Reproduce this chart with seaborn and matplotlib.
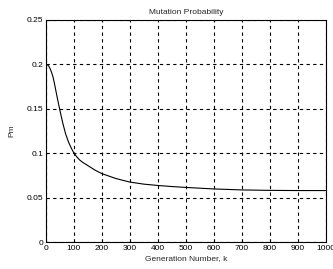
import matplotlib
matplotlib.use("Agg")
import matplotlib.pyplot as plt
import seaborn as sns
import pandas as pd

generation = [0, 5, 10, 15, 20, 25, 30, 40, 50, 60, 70, 80, 90, 100, 110, 120, 130,
              150, 175, 200, 250, 300, 350, 400, 450, 500, 600, 700, 800, 900, 1000]
pm = [0.200, 0.1995, 0.198, 0.195, 0.191, 0.186, 0.179, 0.163, 0.148, 0.134, 0.122,
      0.113, 0.106, 0.100, 0.096, 0.0925, 0.0900, 0.0860, 0.0810, 0.0770, 0.0715,
      0.0675, 0.0652, 0.0637, 0.0625, 0.0615, 0.0598, 0.0587, 0.0582, 0.0580, 0.0580]
xticks = [0, 100, 200, 300, 400, 500, 600, 700, 800, 900, 1000]
yticks = [0, 0.05, 0.1, 0.15, 0.2, 0.25]
ytick_labels = ["0", "0.05", "0.1", "0.15", "0.2", "0.25"]

sns.set_style("white")
plt.rcParams['font.family'] = ['Liberation Sans', 'DejaVu Sans']

df = pd.DataFrame({"k": generation, "Pm": pm})

fig = plt.figure(figsize=(3.33, 2.69), dpi=100)
ax = fig.add_axes([0.138, 0.10, 0.841, 0.826])
sns.lineplot(data=df, x="k", y="Pm", ax=ax, color="black", linewidth=0.8)

ax.set_xlim(0, 1000)
ax.set_ylim(0, 0.25)
ax.set_xticks(xticks)
ax.set_xticklabels([str(t) for t in xticks])
ax.set_yticks(yticks)
ax.set_yticklabels(ytick_labels)
ax.grid(True, color="black", linestyle=(0, (3, 3)), linewidth=0.8)
for s in ax.spines.values():
    s.set_color("black")
    s.set_linewidth(0.8)
ax.tick_params(direction="in", length=3, labelsize=6, colors="black", pad=2)
ax.set_xlabel("Generation Number, k", fontsize=6, labelpad=2)
ax.set_ylabel("Pm", fontsize=6, labelpad=8)
ax.set_title("Mutation Probability", fontsize=6, pad=4)

fig.savefig("out.png", dpi=100)
